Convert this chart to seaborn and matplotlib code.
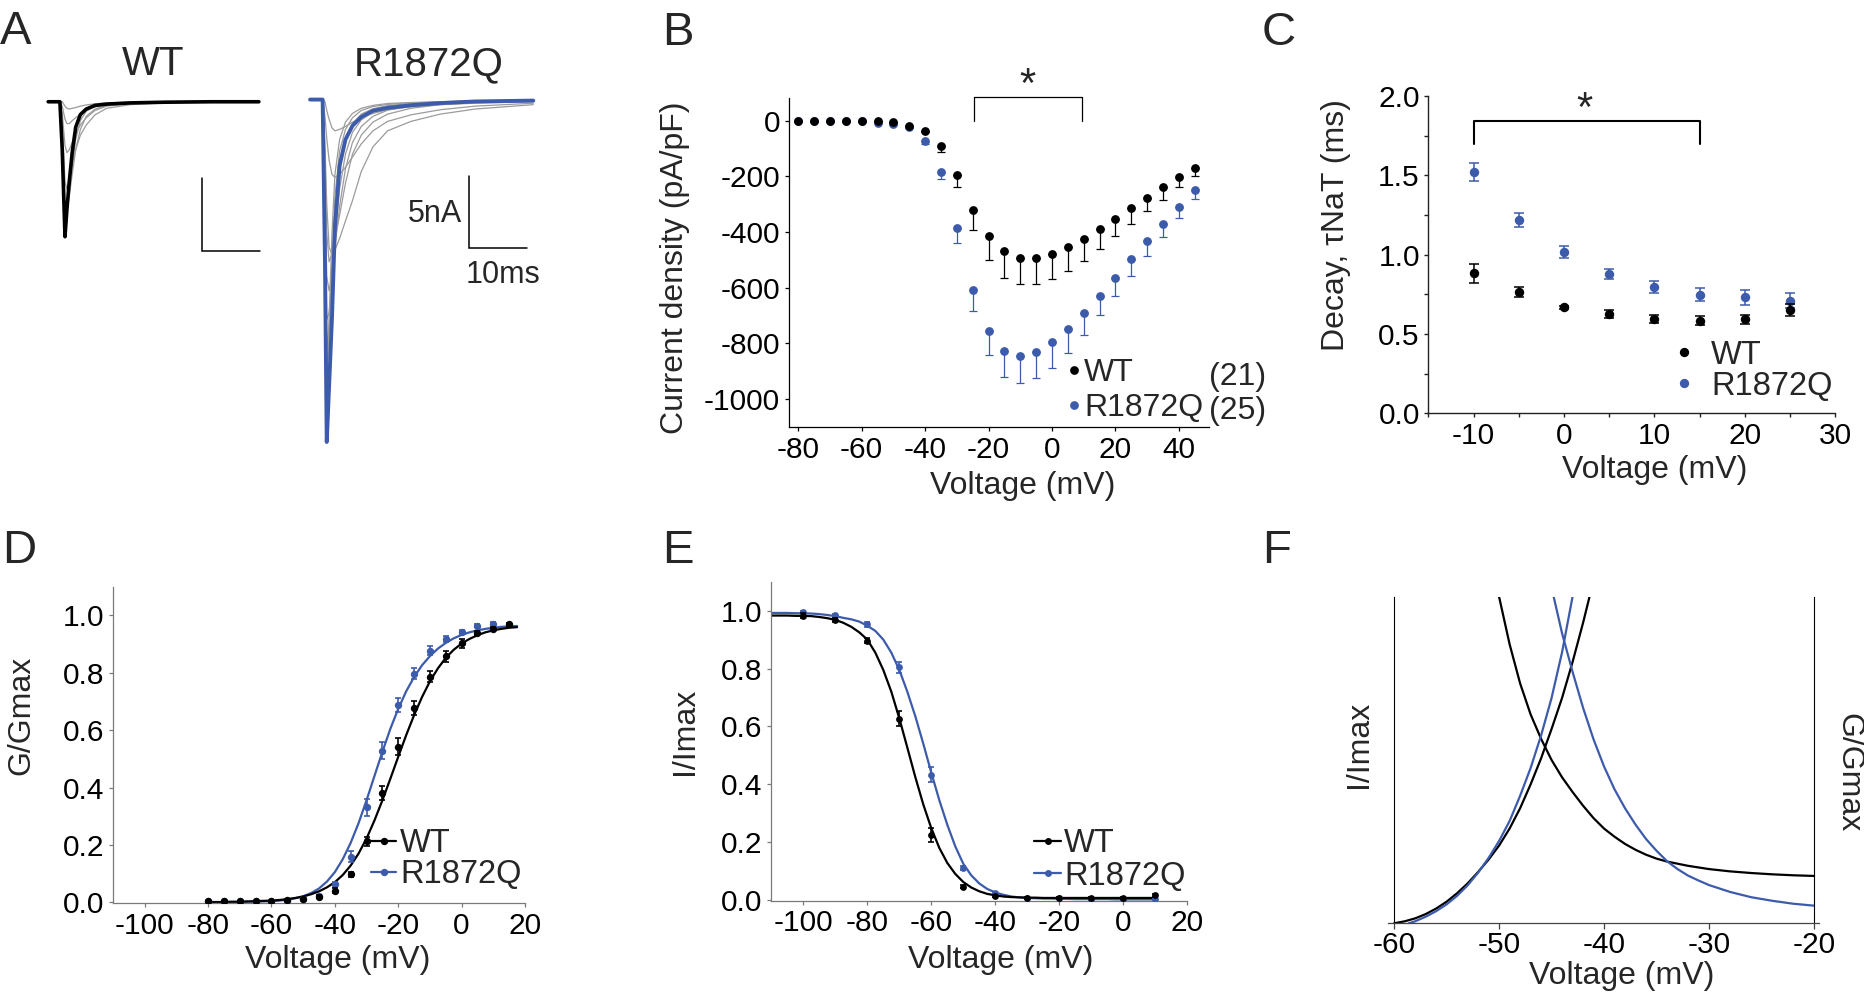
#!/usr/bin/env python3
# encoding: utf-8
"""
Figura de canal de sodio: WT frente a R1872Q (paneles A-F).
Genera out.png de 1864x992 px.
"""

import numpy as np
import pandas as pd
import matplotlib
matplotlib.use('Agg')
import matplotlib.pyplot as plt
from matplotlib.lines import Line2D
import seaborn as sns

ANCHO, ALTO = 1864, 992
NEGRO = '#000000'
AZUL = '#3d5bab'
GRIS = '#9b9b9b'

TAM_TICK = 21.5
TAM_ETIQ = 23
TAM_LEY = 23.5

# ---------------- A: trazos de corriente (t en ms, I en nA)
T_WT = [0, 2.0, 2.4, 2.87, 3.2, 3.6, 4.1, 4.7, 5.5, 6.5, 8.0, 10.0, 14.0, 20.0, 28.0, 36.0]
I_WT = [0, 0, -3.3, -9.28, -7.4, -5.5, -3.5, -1.75, -0.88, -0.5, -0.25, -0.16, -0.08, -0.03, 0, 0]
I_WT_GRIS = [
    [0, 0, -3.0, -8.5, -7.8, -6.3, -4.4, -2.6, -1.3, -0.65, -0.3, -0.16, -0.08, -0.03, 0, 0],
    [0, 0, -2.0, -7.0, -7.2, -6.5, -5.0, -3.3, -1.9, -1.0, -0.5, -0.25, -0.1, -0.04, 0, 0],
    [0, 0, -1.5, -5.5, -6.0, -5.4, -4.3, -3.3, -2.3, -1.6, -0.9, -0.45, -0.2, -0.08, 0, 0],
    [0, 0, -0.8, -3.0, -3.5, -3.3, -2.8, -2.2, -1.6, -1.1, -0.6, -0.3, -0.12, -0.05, 0, 0],
    [0, 0, -0.3, -1.2, -1.5, -1.5, -1.3, -1.1, -0.85, -0.6, -0.35, -0.2, -0.08, -0.03, 0, 0],
    [0, 0, 0.0, -0.3, -0.45, -0.5, -0.45, -0.4, -0.3, -0.22, -0.14, -0.08, -0.03, 0, 0, 0],
]
T_R = [44.75, 46.9, 47.3, 47.6, 48.0, 48.5, 49.0, 49.8, 50.8, 52.0, 53.5, 55.5, 58.0, 62.0, 67.0, 73.0, 82.9]
I_R = [0.15, 0.15, -11.0, -23.4, -19.6, -14.8, -8.6, -4.4, -2.6, -1.65, -1.05, -0.62, -0.42, -0.24, -0.09, 0.02, 0.08]
I_R_GRIS = [
    [0.15, 0.15, -10, -21, -15, -9, -5, -2.6, -1.4, -0.8, -0.45, -0.25, -0.12, -0.05, 0.0, 0.05, 0.1],
    [0.15, 0.15, -9, -19, -16, -11, -6.5, -3.4, -1.9, -1.1, -0.6, -0.33, -0.18, -0.08, 0.0, 0.04, 0.1],
    [0.15, 0.15, -8, -17, -15.5, -12, -8, -4.5, -2.6, -1.5, -0.85, -0.48, -0.27, -0.12, -0.03, 0.03, 0.08],
    [0.15, 0.15, -7, -15, -14.5, -12.5, -9.5, -6, -3.6, -2.1, -1.25, -0.7, -0.4, -0.2, -0.07, 0.0, 0.07],
    [0.15, 0.15, -6, -12, -13, -12, -10, -7.2, -4.6, -2.8, -1.7, -1.0, -0.58, -0.3, -0.12, -0.02, 0.06],
    [0.15, 0.15, -4, -9, -11, -10.5, -9.5, -7.8, -5.6, -3.6, -2.3, -1.4, -0.85, -0.45, -0.2, -0.06, 0.05],
    [0.15, 0.15, -3, -7, -10, -10.5, -10.2, -9.4, -8.2, -6.8, -4.8, -3.1, -2.0, -1.35, -0.85, -0.5, -0.2],
    [0.15, 0.15, -1, -2.5, -4, -5, -5.2, -5, -4.5, -3.8, -2.9, -2.0, -1.35, -0.9, -0.55, -0.3, -0.1],
    [0.15, 0.15, 0, -0.6, -1.2, -1.8, -2.0, -1.9, -1.7, -1.4, -1.1, -0.8, -0.55, -0.35, -0.2, -0.1, 0.0],
]
# barras de escala: esquina (t, I), 5 nA y 10 ms
BARRA_T = [26.26, 71.86]
BARRA_I = [-10.25, -10.09]
BARRA_NA = 5
BARRA_MS = 10

# ---------------- B: densidad de corriente (pA/pF)
V_B = list(range(-80, 50, 5))
WT_B = [-2, -2, -2, -2, -2, -3, -6, -18, -36, -91, -194, -321, -414, -468, -495, -492,
        -480, -455, -426, -389, -353, -315, -277, -238, -204, -169]
WT_B_ERR = [0, 0, 0, 0, 0, 0, 0, 3, 6, 22, 44, 71, 87, 96, 93, 94, 90, 85, 78, 71, 63, 55, 49, 46, 34, 29]
R_B = [-2, -2, -2, -2, -2, -10, -14, -24, -75, -184, -387, -608, -755, -828, -846, -831,
       -796, -747, -691, -628, -564, -498, -434, -372, -309, -251]
R_B_ERR = [0, 0, 0, 0, 0, 0, 2, 4, 8, 27, 52, 76, 85, 92, 95, 93, 91, 86, 78, 71, 66, 59, 53, 45, 40, 30]
N_WT, N_R = 21, 25

# ---------------- C: constante de decaimiento (ms)
V_C = [-10, -5, 0, 5, 10, 15, 20, 25]
WT_C = [0.882, 0.763, 0.668, 0.628, 0.597, 0.584, 0.592, 0.651]
WT_C_ERR = [0.059, 0.03, 0.01, 0.025, 0.025, 0.03, 0.03, 0.04]
R_C = [1.523, 1.218, 1.019, 0.878, 0.796, 0.746, 0.731, 0.710]
R_C_ERR = [0.056, 0.043, 0.038, 0.032, 0.036, 0.041, 0.049, 0.049]

# ---------------- D: activación G/Gmax
V_D_WT = list(range(-80, 20, 5))
WT_D = [0.005, 0.005, 0.005, 0.005, 0.005, 0.009, 0.012, 0.02, 0.041, 0.097, 0.212, 0.38,
        0.543, 0.678, 0.787, 0.857, 0.903, 0.938, 0.952, 0.969]
WT_D_ERR = [0, 0, 0, 0, 0, 0, 0, 0.005, 0.008, 0.01, 0.015, 0.025, 0.03, 0.025, 0.02, 0.02,
            0.015, 0.008, 0.006, 0.005]
V_D_R = list(range(-80, 15, 5))
R_D = [0.004, 0.004, 0.004, 0.004, 0.004, 0.006, 0.010, 0.022, 0.063, 0.159, 0.331, 0.529,
       0.688, 0.797, 0.877, 0.917, 0.942, 0.964, 0.971]
R_D_ERR = [0, 0, 0, 0, 0, 0, 0.003, 0.005, 0.008, 0.02, 0.03, 0.03, 0.025, 0.018, 0.015, 0.01,
           0.008, 0.006, 0.005]
V_AJ_D = np.arange(-80, 17.6, 2.5)
WT_AJ_D = [0.001, 0.001, 0.001, 0.002, 0.002, 0.003, 0.004, 0.005, 0.006, 0.008,
           0.011, 0.015, 0.02, 0.028, 0.038, 0.052, 0.07, 0.095, 0.128, 0.17,
           0.222, 0.285, 0.355, 0.43, 0.507, 0.582, 0.652, 0.715, 0.77, 0.815,
           0.852, 0.88, 0.902, 0.918, 0.931, 0.941, 0.948, 0.953, 0.957, 0.959]
R_AJ_D = [0.0, 0.0, 0.001, 0.001, 0.001, 0.002, 0.002, 0.003, 0.004, 0.006,
          0.009, 0.014, 0.021, 0.032, 0.048, 0.072, 0.105, 0.15, 0.207, 0.276,
          0.355, 0.44, 0.524, 0.604, 0.674, 0.735, 0.785, 0.826, 0.858, 0.884,
          0.904, 0.92, 0.932, 0.941, 0.948, 0.953, 0.957, 0.96, 0.962, 0.963]

# ---------------- E: inactivación I/Imax
V_E = [-100, -90, -80, -70, -60, -50, -40, -30, -20, -10, 0, 10]
WT_E = [0.983, 0.967, 0.896, 0.626, 0.224, 0.046, 0.014, 0.006, 0.006, 0.006, 0.007, 0.016]
WT_E_ERR = [0.008, 0.008, 0.008, 0.026, 0.025, 0.006, 0.004, 0.003, 0.003, 0.003, 0.003, 0.004]
R_E = [0.994, 0.985, 0.953, 0.805, 0.433, 0.110, 0.025, 0.006, 0.006, 0.002, 0.003, 0.002]
R_E_ERR = [0.005, 0.005, 0.008, 0.019, 0.026, 0.008, 0.004, 0.003, 0.003, 0.003, 0.003, 0.003]
V_AJ_E = np.arange(-110, 10.1, 2.5)
WT_AJ_E = [0.983, 0.983, 0.983, 0.982, 0.982, 0.981, 0.978, 0.974, 0.968, 0.958,
           0.944, 0.925, 0.9, 0.855, 0.795, 0.72, 0.628, 0.527, 0.425, 0.33,
           0.248, 0.18, 0.128, 0.09, 0.062, 0.043, 0.03, 0.021, 0.016, 0.012,
           0.01, 0.009, 0.008, 0.008, 0.007, 0.007, 0.007, 0.007, 0.007, 0.007,
           0.007, 0.007, 0.007, 0.007, 0.007, 0.007, 0.007, 0.007, 0.007]
R_AJ_E = [0.992, 0.992, 0.992, 0.991, 0.991, 0.99, 0.988, 0.985, 0.981, 0.975,
          0.97, 0.962, 0.948, 0.93, 0.9, 0.855, 0.795, 0.72, 0.635, 0.54,
          0.44, 0.345, 0.26, 0.185, 0.125, 0.085, 0.057, 0.038, 0.026, 0.018,
          0.012, 0.009, 0.007, 0.006, 0.005, 0.005, 0.004, 0.004, 0.003, 0.003,
          0.003, 0.003, 0.003, 0.002, 0.002, 0.002, 0.002, 0.002, 0.002]

# ---------------- F: solapamiento (corriente de ventana), escala relativa
V_F_WT_ACT = [-60, -59, -58, -57, -56, -55, -54, -53, -52, -51, -50, -49, -48, -47, -46,
              -45, -44, -43, -42, -41]
F_WT_ACT = [0.0, 0.006, 0.015, 0.028, 0.045, 0.066, 0.092, 0.122, 0.157, 0.195, 0.238,
            0.29, 0.352, 0.425, 0.505, 0.595, 0.69, 0.80, 0.92, 1.05]
V_F_R_ACT = [-58.6, -58, -57, -56, -55, -54, -53, -52, -51, -50, -49, -48, -47, -46, -45,
             -44, -43, -42.5]
F_R_ACT = [0.0, 0.006, 0.02, 0.037, 0.058, 0.084, 0.116, 0.155, 0.2, 0.252, 0.313, 0.39,
           0.475, 0.575, 0.69, 0.83, 1.0, 1.1]
V_F_WT_INA = [-50.2, -50, -49, -48, -47, -46, -45, -44, -43, -42, -41, -40, -39, -38, -37,
              -36, -35, -34, -32, -30, -28, -26, -24, -22, -20]
F_WT_INA = [1.03, 1.0, 0.855, 0.735, 0.64, 0.565, 0.5, 0.447, 0.402, 0.36, 0.322, 0.29,
            0.265, 0.243, 0.225, 0.21, 0.198, 0.189, 0.176, 0.166, 0.159, 0.154, 0.15,
            0.147, 0.145]
V_F_R_INA = [-45, -44.8, -44, -43, -42, -41, -40, -39, -38, -37, -36, -35, -34, -33, -32,
             -31, -30, -28, -26, -24, -22, -20]
F_R_INA = [1.03, 1.0, 0.888, 0.77, 0.66, 0.563, 0.48, 0.41, 0.352, 0.302, 0.258, 0.222,
           0.19, 0.166, 0.146, 0.131, 0.117, 0.096, 0.08, 0.069, 0.06, 0.054]


def caja(fig, x0, y0, x1, y1):
    """Crea unos ejes a partir de coordenadas en píxeles (origen arriba a la izquierda)."""
    return fig.add_axes([x0 / ANCHO, 1 - y1 / ALTO, (x1 - x0) / ANCHO, (y1 - y0) / ALTO])


def estilo(ax, color_eje=NEGRO, lw=0.9):
    for lado in ['top', 'right']:
        ax.spines[lado].set_visible(False)
    for lado in ['left', 'bottom']:
        ax.spines[lado].set_color(color_eje)
        ax.spines[lado].set_linewidth(lw)
    ax.tick_params(which='both', direction='out', length=3.2, width=lw, color=color_eje,
                   labelsize=TAM_TICK, pad=3, labelcolor=NEGRO)
    ax.set_facecolor('none')


def etiquetas(ax, xlab, xpos, ylab, ypos):
    ax.set_xlabel(xlab, fontsize=TAM_ETIQ, va='center')
    ax.xaxis.set_label_coords(*xpos)
    ax.set_ylabel(ylab, fontsize=TAM_ETIQ, va='center')
    ax.yaxis.set_label_coords(*ypos)


def trazos_largos(tiempos, series):
    filas = []
    for k, serie in enumerate(series):
        for t, i in zip(tiempos, serie):
            filas.append({'traza': k, 't': t, 'I': i})
    return pd.DataFrame(filas)


sns.set_theme(style='ticks')
plt.rcParams['font.family'] = ['Liberation Sans', 'DejaVu Sans']
plt.rcParams['axes.unicode_minus'] = False

fig = plt.figure(figsize=(ANCHO / 100, ALTO / 100), dpi=100)

# ================= A
ax_a = caja(fig, 40, 75, 545, 450)
ax_a.set_xlim(-1.4, 84.9)
ax_a.set_ylim(-23.95, 1.84)
ax_a.axis('off')
sns.lineplot(data=trazos_largos(T_WT, I_WT_GRIS), x='t', y='I', units='traza', estimator=None,
             color=GRIS, lw=0.9, ax=ax_a)
sns.lineplot(data=trazos_largos(T_R, I_R_GRIS), x='t', y='I', units='traza', estimator=None,
             color=GRIS, lw=0.9, ax=ax_a)
sns.lineplot(x=T_WT, y=I_WT, color=NEGRO, lw=2.6, ax=ax_a)
sns.lineplot(x=T_R, y=I_R, color=AZUL, lw=2.8, ax=ax_a)
for t0, i0 in zip(BARRA_T, BARRA_I):
    ax_a.plot([t0, t0, t0 + BARRA_MS], [i0 + BARRA_NA, i0, i0], color=NEGRO, lw=1.1,
              solid_joinstyle='miter')
ax_a.text(BARRA_T[1] - 1.05, BARRA_I[1] + 1.84, '5nA', ha='right', va='baseline', fontsize=22)
ax_a.text(BARRA_T[1] + 5.9, BARRA_I[1] - 2.4, '10ms', ha='center', va='baseline', fontsize=22)
ax_a.text(18.0, 1.84, 'WT', ha='center', va='baseline', fontsize=29, clip_on=False)
ax_a.text(65.0, 1.84, 'R1872Q', ha='center', va='baseline', fontsize=29, clip_on=False)

# ================= B
ax_b = caja(fig, 788.7, 98, 1208.7, 427)
estilo(ax_b)
ax_b.set_xlim(-83, 49.4)
ax_b.set_ylim(-1100, 81)
cero_b = [0] * len(V_B)
ax_b.errorbar(V_B, R_B, yerr=[R_B_ERR, cero_b], fmt='none', ecolor=AZUL, elinewidth=0.9,
              capsize=3, capthick=0.9, zorder=2)
sns.scatterplot(x=V_B, y=R_B, color=AZUL, s=40, linewidth=0, ax=ax_b, zorder=3)
ax_b.errorbar(V_B, WT_B, yerr=[WT_B_ERR, cero_b], fmt='none', ecolor=NEGRO, elinewidth=0.9,
              capsize=3, capthick=0.9, zorder=4)
sns.scatterplot(x=V_B, y=WT_B, color=NEGRO, s=40, linewidth=0, ax=ax_b, zorder=5)
ax_b.set_xticks([-80, -60, -40, -20, 0, 20, 40])
ax_b.set_yticks([0, -200, -400, -600, -800, -1000])
etiquetas(ax_b, 'Voltage (mV)', (0.558, -0.179), 'Current density (pA/pF)', (-0.271, 0.485))
ax_b.plot([-24.5, -24.5, 9.5, 9.5], [0, 86, 86, 0], color=NEGRO, lw=0.9, clip_on=False)
ax_b.text(-7.7, 86, '*', ha='center', va='baseline', fontsize=30, clip_on=False)
h_b = [Line2D([], [], ls='none', marker='o', ms=6.3, color=c, mec='none') for c in (NEGRO, AZUL)]
ax_b.legend(h_b, ['WT', 'R1872Q'], loc='upper left', bbox_to_anchor=(0.6634, 0.21),
            frameon=False, fontsize=23, handlelength=0.4, handletextpad=0.12,
            labelspacing=0.15, borderpad=0, borderaxespad=0)
ax_b.text(67.5, -948, f'({N_WT})', ha='right', va='baseline', fontsize=23, clip_on=False)
ax_b.text(67.5, -1070, f'({N_R})', ha='right', va='baseline', fontsize=23, clip_on=False)

# ================= C
ax_c = caja(fig, 1428.4, 96, 1835.3, 413.3)
estilo(ax_c, color_eje='#222222', lw=1.0)
ax_c.set_xlim(-15, 30)
ax_c.set_ylim(0, 2.0)
ax_c.errorbar(V_C, R_C, yerr=R_C_ERR, fmt='none', ecolor=AZUL, elinewidth=1.1, capsize=3.5,
              capthick=1.1, zorder=2)
sns.scatterplot(x=V_C, y=R_C, color=AZUL, s=46, linewidth=0, ax=ax_c, zorder=3)
ax_c.errorbar(V_C, WT_C, yerr=WT_C_ERR, fmt='none', ecolor=NEGRO, elinewidth=1.1, capsize=3.5,
              capthick=1.1, zorder=4)
sns.scatterplot(x=V_C, y=WT_C, color=NEGRO, s=46, linewidth=0, ax=ax_c, zorder=5)
ax_c.set_xticks([-10, 0, 10, 20, 30])
ax_c.set_xticks([-15, -5, 5, 15, 25], minor=True)
ax_c.set_yticks([0, 0.5, 1.0, 1.5, 2.0])
ax_c.set_yticks([0.25, 0.75, 1.25, 1.75], minor=True)
ax_c.set_yticklabels([f'{v:.1f}' for v in [0, 0.5, 1.0, 1.5, 2.0]])
etiquetas(ax_c, 'Voltage (mV)', (0.557, -0.179), 'Decay, τNaT (ms)', (-0.227, 0.593))
ax_c.plot([-10, -10, 15, 15], [1.696, 1.843, 1.843, 1.696], color=NEGRO, lw=1.5, clip_on=False)
ax_c.text(2.2, 1.843, '*', ha='center', va='baseline', fontsize=30, clip_on=False)
h_c = [Line2D([], [], ls='none', marker='o', ms=6.7, color=c, mec='none') for c in (NEGRO, AZUL)]
ax_c.legend(h_c, ['WT', 'R1872Q'], loc='upper left', bbox_to_anchor=(0.596, 0.232),
            frameon=False, fontsize=TAM_LEY, handlelength=0.8, handletextpad=0.43,
            labelspacing=0.0, borderpad=0, borderaxespad=0)

# ================= D
ax_d = caja(fig, 112.9, 586.7, 525, 903.3)
estilo(ax_d, color_eje='#7a7a7a', lw=0.9)
ax_d.set_xlim(-110, 20)
ax_d.set_ylim(-0.0035, 1.1)
sns.lineplot(x=V_AJ_D, y=R_AJ_D, color=AZUL, lw=1.6, ax=ax_d)
ax_d.errorbar(V_D_R, R_D, yerr=R_D_ERR, fmt='none', ecolor=AZUL, elinewidth=1.2, capsize=2.2,
              capthick=1.2, zorder=3)
sns.scatterplot(x=V_D_R, y=R_D, color=AZUL, s=28, linewidth=0, ax=ax_d, zorder=3)
sns.lineplot(x=V_AJ_D, y=WT_AJ_D, color=NEGRO, lw=1.6, ax=ax_d)
ax_d.errorbar(V_D_WT, WT_D, yerr=WT_D_ERR, fmt='none', ecolor=NEGRO, elinewidth=1.2, capsize=2.2,
              capthick=1.2, zorder=4)
sns.scatterplot(x=V_D_WT, y=WT_D, color=NEGRO, s=28, linewidth=0, ax=ax_d, zorder=4)
ax_d.set_xticks([-100, -80, -60, -40, -20, 0, 20])
ax_d.set_yticks([0, 0.2, 0.4, 0.6, 0.8, 1.0])
ax_d.set_yticklabels([f'{v:.1f}' for v in [0, 0.2, 0.4, 0.6, 0.8, 1.0]])
etiquetas(ax_d, 'Voltage (mV)', (0.545, -0.179), 'G/Gmax', (-0.222, 0.592))
h_d = [Line2D([], [], color=c, lw=1.6, marker='o', ms=5.3, mec='none') for c in (NEGRO, AZUL)]
ax_d.legend(h_d, ['WT', 'R1872Q'], loc='upper left', bbox_to_anchor=(0.627, 0.238),
            frameon=False, fontsize=TAM_LEY, handlelength=0.77, handletextpad=0.11,
            labelspacing=0.0, borderpad=0, borderaxespad=0)

# ================= E
ax_e = caja(fig, 771.3, 581.7, 1187.3, 900.7)
estilo(ax_e, color_eje='#7a7a7a', lw=0.9)
ax_e.set_xlim(-110, 20)
ax_e.set_ylim(-0.0025, 1.1)
sns.lineplot(x=V_AJ_E, y=R_AJ_E, color=AZUL, lw=1.6, ax=ax_e)
ax_e.errorbar(V_E, R_E, yerr=R_E_ERR, fmt='none', ecolor=AZUL, elinewidth=1.2, capsize=2.2,
              capthick=1.2, zorder=3)
sns.scatterplot(x=V_E, y=R_E, color=AZUL, s=24, linewidth=0, ax=ax_e, zorder=3)
sns.lineplot(x=V_AJ_E, y=WT_AJ_E, color=NEGRO, lw=1.6, ax=ax_e)
ax_e.errorbar(V_E, WT_E, yerr=WT_E_ERR, fmt='none', ecolor=NEGRO, elinewidth=1.2, capsize=2.2,
              capthick=1.2, zorder=4)
sns.scatterplot(x=V_E, y=WT_E, color=NEGRO, s=24, linewidth=0, ax=ax_e, zorder=4)
ax_e.set_xticks([-100, -80, -60, -40, -20, 0, 20])
ax_e.set_yticks([0, 0.2, 0.4, 0.6, 0.8, 1.0])
ax_e.set_yticklabels([f'{v:.1f}' for v in [0, 0.2, 0.4, 0.6, 0.8, 1.0]])
etiquetas(ax_e, 'Voltage (mV)', (0.551, -0.186), 'I/Imax', (-0.2075, 0.53))
h_e = [Line2D([], [], color=c, lw=1.6, marker='o', ms=5.0, mec='none') for c in (NEGRO, AZUL)]
ax_e.legend(h_e, ['WT', 'R1872Q'], loc='upper left', bbox_to_anchor=(0.632, 0.228),
            frameon=False, fontsize=TAM_LEY, handlelength=0.82, handletextpad=0.09,
            labelspacing=0.05, borderpad=0, borderaxespad=0)

# ================= F
ax_f = caja(fig, 1388.3, 596.7, 1819.3, 923.3)
estilo(ax_f, color_eje='#444444', lw=0.9)
ax_f.spines['right'].set_visible(True)
ax_f.spines['left'].set_position(('data', -60))
ax_f.spines['right'].set_position(('data', -20))
for lado in ['left', 'right']:
    ax_f.spines[lado].set_color(NEGRO)
    ax_f.spines[lado].set_linewidth(0.8)
ax_f.set_xlim(-60.55, -19.5)
ax_f.set_ylim(0, 1)
sns.lineplot(x=V_F_WT_ACT, y=F_WT_ACT, color=NEGRO, lw=1.6, ax=ax_f)
sns.lineplot(x=V_F_WT_INA, y=F_WT_INA, color=NEGRO, lw=1.6, ax=ax_f)
sns.lineplot(x=V_F_R_ACT, y=F_R_ACT, color=AZUL, lw=1.6, ax=ax_f)
sns.lineplot(x=V_F_R_INA, y=F_R_INA, color=AZUL, lw=1.6, ax=ax_f)
ax_f.set_xticks([-60, -50, -40, -30, -20])
ax_f.set_yticks([])
ax_f.tick_params(axis='x', length=4.0, pad=1.5)
etiquetas(ax_f, 'Voltage (mV)', (0.5425, -0.162), 'I/Imax', (-0.0675, 0.548))
ax_f.text(1.0675, 0.462, 'G/Gmax', rotation=-90, ha='center', va='center',
          fontsize=TAM_ETIQ, transform=ax_f.transAxes)

# ================= letras de panel
for letra, x, y in [('A', 0, 43.5), ('B', 662, 45), ('C', 1262, 45),
                    ('D', 2, 563), ('E', 662, 563), ('F', 1262, 563)]:
    fig.text(x / ANCHO, 1 - y / ALTO, letra, fontsize=34, ha='left', va='baseline')

fig.savefig('out.png', dpi=100)
plt.close(fig)
